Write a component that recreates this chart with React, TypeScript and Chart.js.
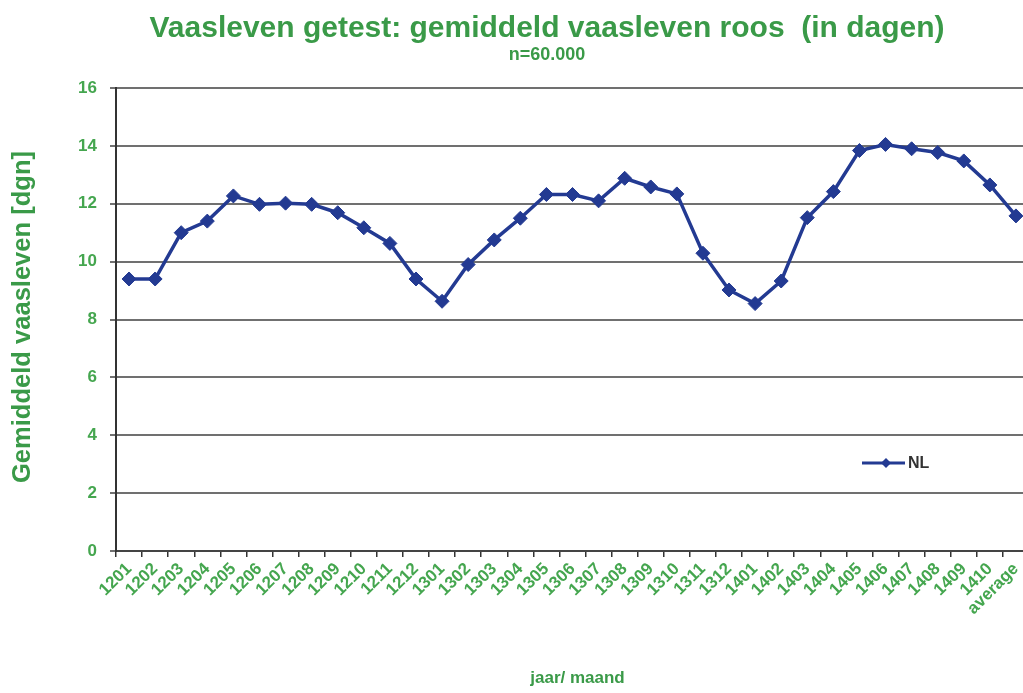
import React, { useEffect, useRef } from "react";
import { Chart, registerables } from "chart.js";

Chart.register(...registerables);

const CATEGORIES = [
  "1201", "1202", "1203", "1204", "1205", "1206", "1207", "1208", "1209", "1210", "1211", "1212",
  "1301", "1302", "1303", "1304", "1305", "1306", "1307", "1308", "1309", "1310", "1311", "1312",
  "1401", "1402", "1403", "1404", "1405", "1406", "1407", "1408", "1409", "1410", "average",
];

const NL_VALUES = [
  9.4, 9.4, 11.0, 11.4, 12.27, 11.98, 12.02, 11.98, 11.69, 11.17, 10.63, 9.4,
  8.63, 9.9, 10.75, 11.5, 12.32, 12.32, 12.1, 12.88, 12.58, 12.34, 10.29, 9.02,
  8.55, 9.33, 11.52, 12.42, 13.84, 14.05, 13.9, 13.77, 13.48, 12.65, 11.58,
];

const SERIES_LABEL = "NL";
const Y_MIN = 0;
const Y_MAX = 16;
const Y_STEP = 2;

const TITLE = "Vaasleven getest: gemiddeld vaasleven roos  (in dagen)";
const SUBTITLE = "n=60.000";
const Y_TITLE = "Gemiddeld vaasleven [dgn]";
const X_TITLE = "jaar/ maand";

const GREEN = "#3a9a48";
const TICK_GREEN = "#45a64f";
const LINE_BLUE = "#233a92";
const FONT = "'Liberation Sans', Arial, sans-serif";

const textPlugin = {
  id: "customTexts",
  afterDraw(chart: any) {
    const ctx = chart.ctx;
    const area = chart.chartArea;
    ctx.save();
    // title
    ctx.fillStyle = GREEN;
    ctx.textAlign = "center";
    ctx.textBaseline = "alphabetic";
    ctx.font = `bold 30px ${FONT}`;
    ctx.fillText(TITLE, 547, 37, 795);
    ctx.font = `bold 18px ${FONT}`;
    ctx.fillText(SUBTITLE, 547, 60, 86);
    // x title
    ctx.font = `bold 17px ${FONT}`;
    ctx.fillText(X_TITLE, (area.left + area.right) / 2 + 5, 683);
    // y title
    ctx.save();
    ctx.translate(23, 317);
    ctx.rotate(-Math.PI / 2);
    ctx.textBaseline = "middle";
    ctx.font = `bold 26px ${FONT}`;
    ctx.fillText(Y_TITLE, 0, 0, 332);
    ctx.restore();
    // legend
    const ds = chart.data.datasets[0];
    const ly = 463;
    ctx.strokeStyle = ds.borderColor;
    ctx.lineWidth = 3;
    ctx.beginPath();
    ctx.moveTo(862, ly);
    ctx.lineTo(905, ly);
    ctx.stroke();
    ctx.fillStyle = ds.borderColor;
    ctx.beginPath();
    ctx.moveTo(886, ly - 5);
    ctx.lineTo(891, ly);
    ctx.lineTo(886, ly + 5);
    ctx.lineTo(881, ly);
    ctx.closePath();
    ctx.fill();
    ctx.fillStyle = "#333333";
    ctx.textAlign = "left";
    ctx.textBaseline = "middle";
    ctx.font = `bold 16px ${FONT}`;
    ctx.fillText(ds.label, 908, ly + 1);
    ctx.restore();
  },
};

export default function App() {
  const canvasRef = useRef<HTMLCanvasElement | null>(null);

  useEffect(() => {
    const canvas = canvasRef.current;
    if (!canvas) return;
    const chart = new Chart(canvas, {
      type: "line",
      data: {
        labels: CATEGORIES,
        datasets: [
          {
            label: SERIES_LABEL,
            data: NL_VALUES,
            borderColor: LINE_BLUE,
            backgroundColor: LINE_BLUE,
            borderWidth: 3.5,
            pointStyle: "rectRot",
            pointRadius: 7,
            pointBorderWidth: 1,
            tension: 0,
          },
        ],
      },
      options: {
        animation: false,
        responsive: false,
        devicePixelRatio: 1,
        layout: { padding: { top: 88, right: 11, left: 0, bottom: 0 } },
        plugins: {
          legend: { display: false },
          title: { display: false },
          tooltip: { enabled: false },
        },
        scales: {
          x: {
            type: "category",
            offset: true,
            afterFit(scale: any) {
              scale.height = 142;
            },
            grid: {
              offset: true,
              drawOnChartArea: false,
              drawTicks: true,
              tickLength: 6,
              color: "#333333",
              lineWidth: 1.5,
            },
            border: { display: true, color: "#444444", width: 2 },
            ticks: {
              autoSkip: false,
              minRotation: 45,
              maxRotation: 45,
              padding: 2,
              color: TICK_GREEN,
              font: { family: FONT, size: 17, weight: "bold" },
            },
          },
          y: {
            min: Y_MIN,
            max: Y_MAX,
            afterFit(scale: any) {
              scale.width = 116;
            },
            grid: {
              color: "#707070",
              lineWidth: 2,
              drawTicks: true,
              tickLength: 6,
            },
            border: { display: true, color: "#333333", width: 2 },
            ticks: {
              stepSize: Y_STEP,
              padding: 13,
              color: TICK_GREEN,
              font: { family: FONT, size: 17, weight: "bold" },
            },
          },
        },
      },
      plugins: [textPlugin],
    });
    return () => chart.destroy();
  }, []);

  return (
    <div
      style={{
        position: "fixed",
        left: 0,
        top: 0,
        width: 1023,
        height: 693,
        overflow: "hidden",
        background: "#ffffff",
      }}
    >
      <canvas ref={canvasRef} width={1040} height={693} style={{ display: "block" }} />
    </div>
  );
}
